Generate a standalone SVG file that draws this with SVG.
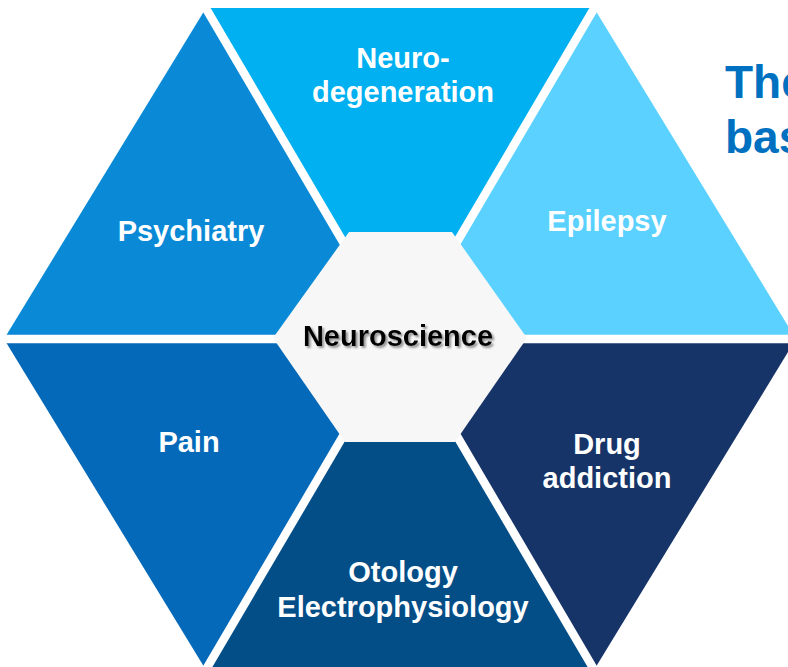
<svg xmlns="http://www.w3.org/2000/svg" width="788" height="667" viewBox="0 0 788 667">
<defs>
<style>
.lbl{font-family:"Liberation Sans",Arial,sans-serif;font-weight:bold;font-size:29px;fill:#ffffff;text-anchor:middle}
.center{font-family:"Liberation Sans",Arial,sans-serif;font-weight:bold;font-size:29px;fill:#000000;text-anchor:middle}
.title{font-family:"Liberation Sans",Arial,sans-serif;font-weight:bold;font-size:46px;fill:#0070c0}
.gap{stroke:#ffffff;stroke-width:8.5;fill:none}
</style>
<filter id="shadow" x="-10%" y="-30%" width="120%" height="160%">
<feGaussianBlur in="SourceAlpha" stdDeviation="1.2" result="b"/>
<feOffset in="b" dx="2" dy="2" result="o"/>
<feFlood flood-color="#777777" flood-opacity="0.8"/>
<feComposite in2="o" operator="in" result="s"/>
<feMerge><feMergeNode in="s"/><feMergeNode in="SourceGraphic"/></feMerge>
</filter>
</defs>
<rect width="788" height="667" fill="#ffffff"/>
<text class="title" x="725" y="98">The</text>
<text class="title" x="725" y="153">bas</text>
<g id="neurodegeneration">
<polygon points="400,339 206,8 594,8" fill="#00b0f0"/>
<text class="lbl" x="403" y="68">Neuro-</text>
<text class="lbl" x="403" y="102">degeneration</text>
</g>
<g id="epilepsy">
<polygon points="400,339 594,8 796,339" fill="#5bd1ff"/>
<text class="lbl" x="607" y="231">Epilepsy</text>
</g>
<g id="drug-addiction">
<polygon points="400,339 796,339 594,670" fill="#163468"/>
<text class="lbl" x="607" y="454">Drug</text>
<text class="lbl" x="607" y="488">addiction</text>
</g>
<g id="otology">
<polygon points="400,339 594,670 206,670" fill="#044e88"/>
<text class="lbl" x="403" y="582">Otology</text>
<text class="lbl" x="403" y="617">Electrophysiology</text>
</g>
<g id="pain">
<polygon points="400,339 206,670 4,339" fill="#0569b9"/>
<text class="lbl" x="189" y="452">Pain</text>
</g>
<g id="psychiatry">
<polygon points="400,339 4,339 206,8" fill="#0a8ad6"/>
<text class="lbl" x="191" y="241">Psychiatry</text>
</g>
<g id="separators">
<line class="gap" x1="0" y1="339" x2="800" y2="339"/>
<line class="gap" x1="201" y1="0" x2="599" y2="678"/>
<line class="gap" x1="599" y1="0" x2="201" y2="678"/>
</g>
<g id="neuroscience">
<polygon points="349,232 452,232 527,338 455,442 345,442 273,338" fill="#f7f7f7"/>
<text class="center" x="398" y="346" filter="url(#shadow)">Neuroscience</text>
</g>
</svg>
